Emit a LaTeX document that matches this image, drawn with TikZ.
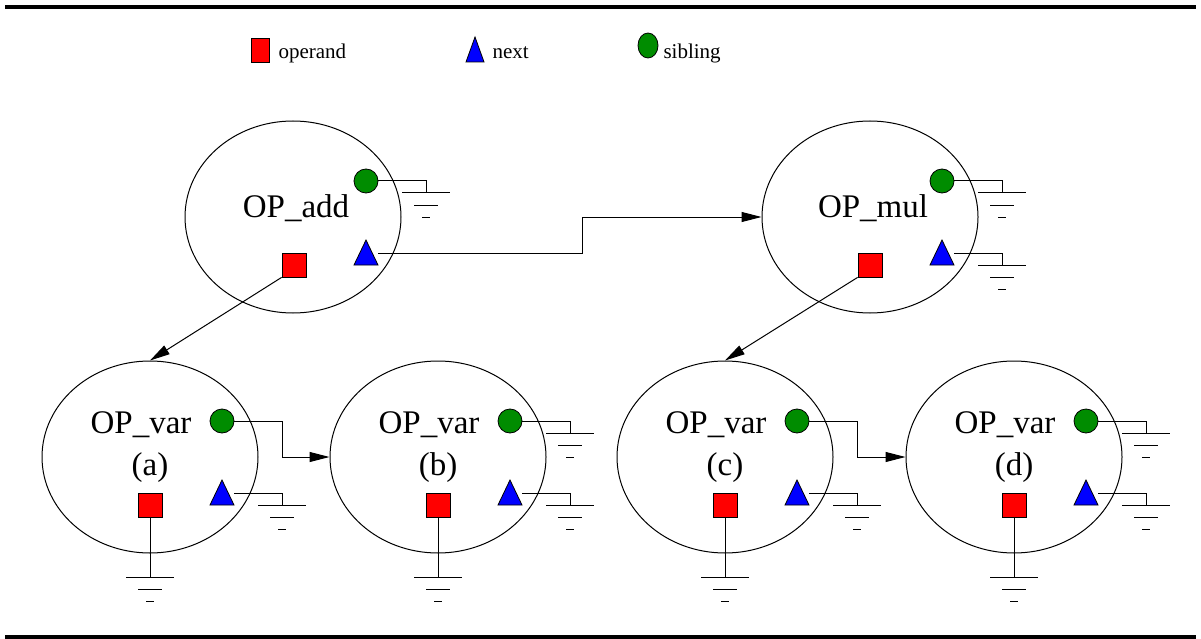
\documentclass[tikz,border=0pt]{standalone}
\usepackage{fontspec}
\setmainfont{Liberation Serif}
\usetikzlibrary{shapes.geometric,arrows.meta}
\definecolor{fgreen}{RGB}{0,140,0}
\newcommand\mytri[3]{%
  \coordinate (#1) at (#2,#3);
  \filldraw[fill=blue,draw=black,line width=0.8pt] ([shift={(-12,12)}]#1) -- ([shift={(12,12)}]#1) -- ([shift={(0,-13)}]#1) -- cycle;}
\begin{document}
\begin{tikzpicture}[x=1pt,y=-1pt,line width=1pt,
  ell/.style={draw,ellipse,minimum width=216pt,minimum height=192pt,inner sep=0pt},
  opsq/.style={draw,fill=red,minimum size=24pt,inner sep=0pt,line width=0.8pt},
  sib/.style={draw,circle,fill=fgreen,minimum size=24pt,inner sep=0pt,line width=0.8pt},
  lbl/.style={font=\fontsize{33}{36}\selectfont,inner sep=0pt,anchor=base},
  leg/.style={font=\fontsize{21}{24}\selectfont,inner sep=0pt,anchor=base west},
  arr/.style={-{Triangle[length=20pt,width=10pt]}},
  pics/gnd/.style={code={\draw (-24,0)--(24,0); \draw (-12,12)--(12,12); \draw (-4,24)--(4,24);}}
]
\useasboundingbox (0,0) rectangle (1201,639);
% rules
\draw[line width=4pt] (5,7) -- (1196,7);
\draw[line width=4pt] (5,637) -- (1196,637);

% legend
\node[draw,fill=red,minimum width=18pt,minimum height=24pt,inner sep=0pt,line width=0.8pt] (lsq) at (260,50) {};
\node[leg] (lop) at (278,59) {operand};
\coordinate (ltri) at (475,50);
\filldraw[fill=blue,draw=black,line width=0.8pt] ([shift={(-9,12)}]ltri) -- ([shift={(9,12)}]ltri) -- ([shift={(0,-13)}]ltri) -- cycle;
\node[leg] (lnx) at (492,59) {next};
\node[draw,ellipse,fill=fgreen,minimum width=20pt,minimum height=25pt,inner sep=0pt,line width=0.8pt] (lci) at (648,45.5) {};
\node[leg] (lsb) at (663,59) {sibling};

% top row
\node[ell] (eadd) at (293,217) {};
\node[lbl] (tadd) at (296,217) {OP\_add};
\node[sib] (sadd) at (366,181) {};
\mytri{nadd}{366}{253}
\node[opsq] (qadd) at (294,265) {};

\node[ell] (emul) at (870,217) {};
\node[lbl] (tmul) at (873,217) {OP\_mul};
\node[sib] (smul) at (942,181) {};
\mytri{nmul}{942}{253}
\node[opsq] (qmul) at (870,265) {};

% top grounds
\coordinate (gsadd) at (426,193);
\draw (sadd.east) -| (gsadd); \pic at (gsadd) {gnd};
\coordinate (gsmul) at (1002,193);
\draw (smul.east) -| (gsmul); \pic at (gsmul) {gnd};
\coordinate (gnmul) at (1002,265);
\draw ([xshift=12pt]nmul) -| (gnmul); \pic at (gnmul) {gnd};

% next arrow add -> mul
\coordinate (kadd) at (582,253);
\draw[arr] ([xshift=12pt]nadd) -- (kadd) |- (emul.west);

% bottom row
\foreach \n/\cx in {a/150,b/438,c/725,d/1014}{
  \node[ell] (e\n) at (\cx,457) {};
  \node[lbl] (t\n) at ({\cx-9},433) {OP\_var};
  \node[lbl] (l\n) at (\cx,475) {(\n)};
  \node[sib] (s\n) at ({\cx+72},421) {};
  \mytri{n\n}{\cx+72}{493}
  \node[opsq] (q\n) at (\cx,505) {};
  \coordinate (gq\n) at (\cx,577);
  \draw (q\n.south) -- (gq\n); \pic at (gq\n) {gnd};
  \coordinate (gn\n) at ({\cx+132},505);
  \draw ([xshift=12pt]n\n) -| (gn\n); \pic at (gn\n) {gnd};
}
% sibling grounds b, d
\coordinate (gsb) at (570,433);
\draw (sb.east) -| (gsb); \pic at (gsb) {gnd};
\coordinate (gsd) at (1146,433);
\draw (sd.east) -| (gsd); \pic at (gsd) {gnd};

% sibling arrows
\draw[arr] (sa.east) -- ++(48,0) |- (eb.west);
\draw[arr] (sc.east) -- ++(48,0) |- (ed.west);

% operand arrows
\draw[arr] (qadd.south west) -- (ea.north);
\draw[arr] (qmul.south west) -- (ec.north);
\end{tikzpicture}
\end{document}
